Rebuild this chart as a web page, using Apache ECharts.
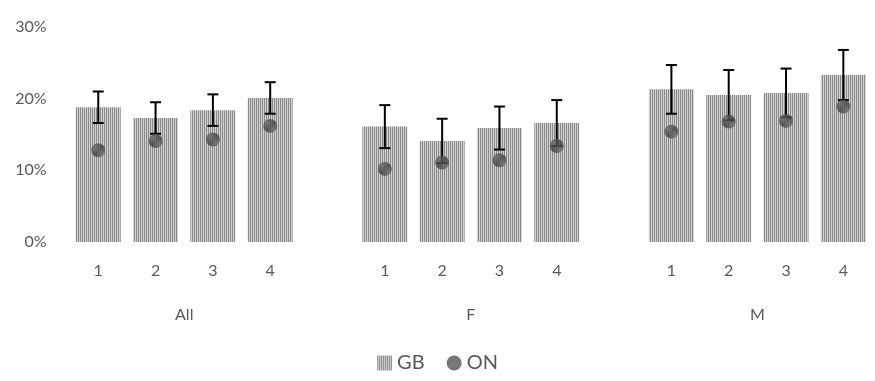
<!DOCTYPE html>
<html><head><meta charset="utf-8">
<script src="https://cdn.jsdelivr.net/npm/echarts@6/dist/echarts.min.js"></script>
<style>html,body{margin:0;padding:0;background:#fff}#c{width:875px;height:381px}</style>
</head><body><div id="c"></div>
<script>
// ---- data ----
var categories = ['1','2','3','4','','1','2','3','4','','1','2','3','4'];
var groupLabels = {1.5:'All', 6.5:'F', 11.5:'M'};
var gbValues = [18.8,17.3,18.4,20.1,'-',16.1,14.1,15.9,16.6,'-',21.3,20.5,20.8,23.3];
var gbErr    = [2.2,2.2,2.2,2.2,'-',3.0,3.1,3.0,3.2,'-',3.4,3.5,3.4,3.5];
var onValues = [12.8,14.1,14.3,16.2,'-',10.2,11.1,11.4,13.4,'-',15.4,16.8,16.9,18.9];
var yTicks = {min:0, max:30, interval:10};

function makePattern(w,h,draw){var c=document.createElement('canvas');c.width=w;c.height=h;var g=c.getContext('2d');draw(g);return {image:c,repeat:'repeat'};}
var barPattern = makePattern(2,2,function(g){g.fillStyle='#d2d2d2';g.fillRect(0,0,2,2);g.fillStyle='#8a8a8a';g.fillRect(0,0,1,2);});
var dotPattern = makePattern(4,4,function(g){g.fillStyle='#6e6e6e';g.fillRect(0,0,4,4);g.fillStyle='#3a3a3a';for(var i=0;i<4;i++){g.fillRect(i,3-i,1,1);g.fillRect((i+2)%4,3-i,1,1);}});

var errData = [];
for (var i=0;i<gbValues.length;i++){ if(gbValues[i]!=='-') errData.push([i, gbValues[i]-gbErr[i], gbValues[i]+gbErr[i]]); }

var font = 'Lato, "Open Sans", sans-serif';
var chart = echarts.init(document.getElementById('c'));
chart.setOption({
  animation:false,
  grid:{left:69.6,right:1.8,top:27,bottom:139},
  legend:{bottom:3,left:'center',itemWidth:15,itemHeight:15,itemGap:22,
    textStyle:{fontFamily:font,fontSize:20,color:'#595959'},
    data:[{name:'GB',icon:'rect'},{name:'ON',icon:'circle'}]},
  xAxis:[{type:'category',data:categories,axisLine:{show:false},axisTick:{show:false},
    axisLabel:{margin:21,fontFamily:font,fontSize:16,color:'#595959',interval:0}},
   {type:'value',position:'bottom',min:-0.5,max:13.5,interval:0.5,splitLine:{show:false},
    axisLine:{show:false},axisTick:{show:false},
    axisLabel:{margin:65,fontFamily:font,fontSize:16,color:'#595959',showMinLabel:true,showMaxLabel:true,
      formatter:function(v){return groupLabels[v]||'';}}}],
  yAxis:{type:'value',min:yTicks.min,max:yTicks.max,interval:yTicks.interval,splitLine:{show:false},
    axisLine:{show:false},axisTick:{show:false},
    axisLabel:{margin:23,fontFamily:font,fontSize:16,color:'#595959',formatter:'{value}%'}},
  series:[
    {name:'GB',type:'bar',data:gbValues,barWidth:45,itemStyle:{color:barPattern},z:1},
    {name:'err',type:'custom',data:errData,z:3,
     renderItem:function(params,api){
       var lo=api.coord([api.value(0),api.value(1)]);var hi=api.coord([api.value(0),api.value(2)]);
       var hw=5.5;var st={stroke:'#000',lineWidth:2};
       return {type:'group',children:[
         {type:'line',shape:{x1:lo[0],y1:lo[1],x2:hi[0],y2:hi[1]},style:st},
         {type:'line',shape:{x1:lo[0]-hw,y1:lo[1],x2:lo[0]+hw,y2:lo[1]},style:st},
         {type:'line',shape:{x1:hi[0]-hw,y1:hi[1],x2:hi[0]+hw,y2:hi[1]},style:st}]};
     }},
    {name:'ON',type:'scatter',data:onValues,symbol:'circle',symbolSize:14,z:5,
     itemStyle:{color:dotPattern}}
  ]
});
</script></body></html>
